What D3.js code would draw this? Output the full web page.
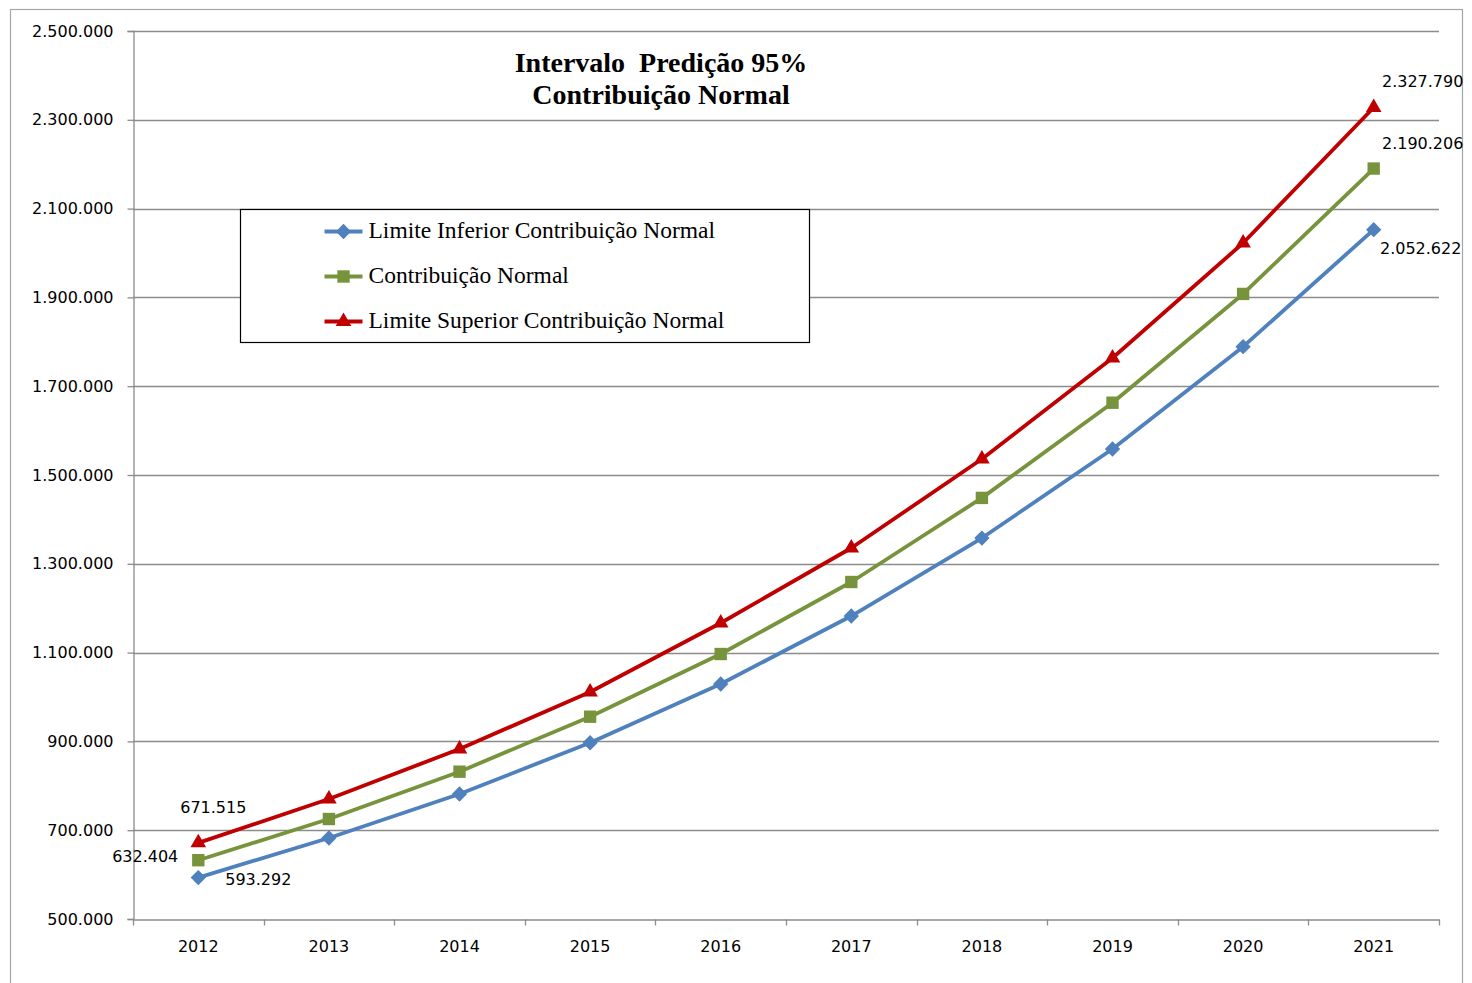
<!DOCTYPE html>
<html>
<head>
<meta charset="utf-8">
<script src="https://cdn.jsdelivr.net/npm/d3@7"></script>
<style>
  html, body { margin: 0; padding: 0; background: #fff; }
  svg { display: block; }
</style>
</head>
<body>
<svg id="chart" width="1472" height="983"></svg>
<script>
// Anos projetados
const years = ["2012", "2013", "2014", "2015", "2016", "2017", "2018", "2019", "2020", "2021"];

// Séries do intervalo de predição (95%)
const limiteInferior = [593292, 682400, 781500, 897000, 1029300, 1182400, 1358000, 1558600, 1789000, 2052622];
const contribuicaoNormal = [632404, 725200, 831800, 955600, 1096800, 1259000, 1448400, 1662800, 1907800, 2190206];
const limiteSuperior = [671515, 770300, 882900, 1011300, 1166700, 1335600, 1536000, 1763500, 2022500, 2327790];

// Marcas do eixo vertical
const yTicks = [500000, 700000, 900000, 1100000, 1300000, 1500000, 1700000, 1900000, 2100000, 2300000, 2500000];

const seriesNames = [
  "Limite Inferior Contribuição Normal",
  "Contribuição Normal",
  "Limite Superior Contribuição Normal"
];
const titleLines = ["Intervalo  Predição 95%", "Contribuição Normal"];

const series = [
  { name: seriesNames[0], values: limiteInferior, color: "#4F81BD", symbol: d3.symbolDiamond2, size: 150 },
  { name: seriesNames[1], values: contribuicaoNormal, color: "#77933C", symbol: d3.symbolSquare2, size: 195 },
  { name: seriesNames[2], values: limiteSuperior, color: "#C00000", symbol: d3.symbolTriangle2, size: 175 }
];

const ptBR = d3.formatLocale({ decimal: ",", thousands: ".", grouping: [3], currency: ["R$", ""] });
const fmt = ptBR.format(",d");

const svg = d3.select("#chart");
const plot = { left: 133, right: 1439, top: 31, bottom: 919 };

// Borda externa da área do gráfico
svg.append("rect")
  .attr("x", 10.5).attr("y", 9.5)
  .attr("width", 1452).attr("height", 990)
  .attr("fill", "#fff").attr("stroke", "#a6a6a6").attr("stroke-width", 1.2);

const x = d3.scaleBand().domain(years).range([plot.left, plot.right]).padding(0);
const y = d3.scaleLinear().domain([500000, 2500000]).range([plot.bottom, plot.top]);

const labelFont = "'DejaVu Sans', Verdana, sans-serif";
const serifFont = "'Liberation Serif', 'Times New Roman', serif";
const labelSize = 16;

// Linhas de grade horizontais
svg.append("g")
  .selectAll("line")
  .data(yTicks.slice(1))
  .join("line")
  .attr("x1", plot.left).attr("x2", plot.right)
  .attr("y1", d => Math.round(y(d)) + 0.5).attr("y2", d => Math.round(y(d)) + 0.5)
  .attr("stroke", "#8c8c8c").attr("stroke-width", 1.3);

// Eixo Y
const yAxis = svg.append("g")
  .attr("transform", `translate(${plot.left + 0.5},0)`)
  .call(d3.axisLeft(y).tickValues(yTicks).tickFormat(fmt).tickSize(6).tickPadding(14));
yAxis.select(".domain").attr("stroke", "#8c8c8c").attr("stroke-width", 1.3);
yAxis.selectAll(".tick line").attr("stroke", "#8c8c8c").attr("stroke-width", 1.3);
yAxis.selectAll(".tick text")
  .attr("font-family", labelFont).attr("font-size", labelSize).attr("fill", "#000");

// Eixo X
const xAxis = svg.append("g")
  .attr("transform", `translate(0,${plot.bottom + 0.5})`)
  .call(d3.axisBottom(x).tickSize(0).tickPadding(21));
xAxis.select(".domain").attr("stroke", "#8c8c8c").attr("stroke-width", 1.3);
xAxis.selectAll(".tick text")
  .attr("font-family", labelFont).attr("font-size", labelSize).attr("fill", "#000");
// Marcas entre as categorias
xAxis.append("g")
  .selectAll("line")
  .data(years.map(d => x(d)).concat([plot.right]))
  .join("line")
  .attr("x1", d => Math.round(d) + 0.5).attr("x2", d => Math.round(d) + 0.5)
  .attr("y1", 0).attr("y2", 6)
  .attr("stroke", "#8c8c8c").attr("stroke-width", 1.3);

const cx = d => x(d) + x.bandwidth() / 2;

// Linhas e marcadores
const line = d3.line().x((d, i) => cx(years[i])).y(d => y(d));
series.forEach(s => {
  svg.append("path")
    .datum(s.values)
    .attr("d", line)
    .attr("fill", "none")
    .attr("stroke", s.color)
    .attr("stroke-width", 3.8)
    .attr("stroke-linejoin", "round");
  svg.append("g")
    .selectAll("path")
    .data(s.values)
    .join("path")
    .attr("transform", (d, i) => `translate(${cx(years[i])},${y(d)})`)
    .attr("d", d3.symbol(s.symbol, s.size))
    .attr("fill", s.color);
});

// Rótulos de valor do primeiro e do último ano
const valueLabels = [
  { s: 2, i: 0, dx: 15, dy: -34, anchor: "middle" },
  { s: 1, i: 0, dx: -20, dy: -3, anchor: "end" },
  { s: 0, i: 0, dx: 60, dy: 3, anchor: "middle" },
  { s: 2, i: 9, dx: 49, dy: -25, anchor: "middle" },
  { s: 1, i: 9, dx: 49, dy: -24, anchor: "middle" },
  { s: 0, i: 9, dx: 47, dy: 20, anchor: "middle" }
];
svg.append("g")
  .selectAll("text")
  .data(valueLabels)
  .join("text")
  .attr("x", d => cx(years[d.i]) + d.dx)
  .attr("y", d => y(series[d.s].values[d.i]) + d.dy)
  .attr("text-anchor", d => d.anchor)
  .attr("dominant-baseline", "middle")
  .attr("font-family", labelFont).attr("font-size", labelSize).attr("fill", "#000")
  .text(d => fmt(series[d.s].values[d.i]));

// Título
svg.append("text")
  .attr("x", 661).attr("y", 66)
  .attr("text-anchor", "middle").attr("dominant-baseline", "middle")
  .attr("font-family", serifFont).attr("font-size", 28).attr("font-weight", "bold")
  .attr("fill", "#000")
  .style("white-space", "pre")
  .selectAll("tspan")
  .data(titleLines)
  .join("tspan")
  .attr("x", 661)
  .attr("dy", (d, i) => i === 0 ? 0 : 32)
  .text(d => d);

// Legenda
const legend = svg.append("g").attr("transform", "translate(240.5,209.5)");
legend.append("rect")
  .attr("width", 569).attr("height", 133)
  .attr("fill", "#fff").attr("stroke", "#000").attr("stroke-width", 1.2);
series.forEach((s, i) => {
  const ly = 22 + i * 45;
  const g = legend.append("g").attr("transform", `translate(0,${ly})`);
  g.append("line")
    .attr("x1", 84).attr("x2", 122).attr("y1", 0).attr("y2", 0)
    .attr("stroke", s.color).attr("stroke-width", 3.8);
  g.append("path")
    .attr("transform", "translate(103,0)")
    .attr("d", d3.symbol(s.symbol, s.size))
    .attr("fill", s.color);
  g.append("text")
    .attr("x", 128).attr("y", 1)
    .attr("dominant-baseline", "middle")
    .attr("font-family", serifFont).attr("font-size", 23.5).attr("fill", "#000")
    .text(s.name);
});
</script>
</body>
</html>
